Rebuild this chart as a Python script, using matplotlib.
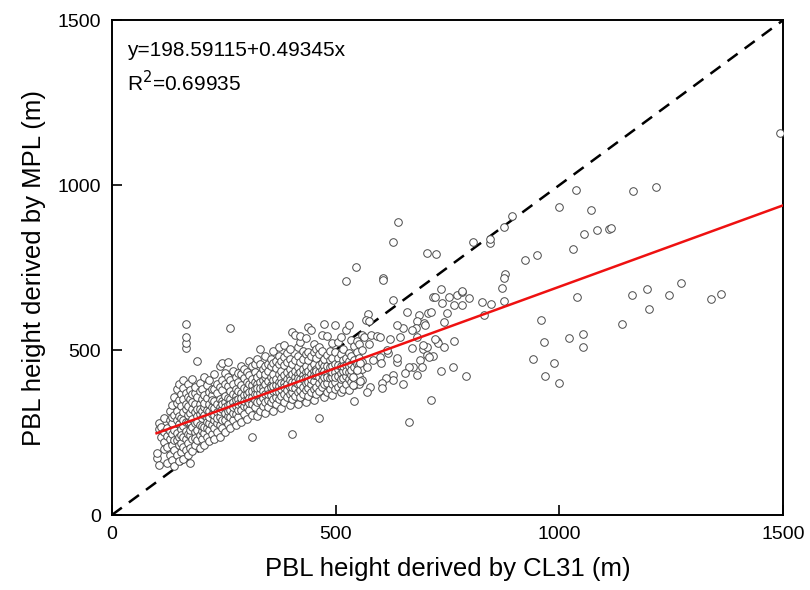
import numpy as np
import matplotlib
matplotlib.use("Agg")
import matplotlib.pyplot as plt

plt.rcParams["font.family"] = ["Liberation Sans", "DejaVu Sans"]

INTERCEPT = 198.59115
SLOPE = 0.49345
R2 = 0.69935

# dense part of the cloud, read column by column: CL31 height -> MPL heights
core_cols = {
    100: [172, 188],
    106: [279, 152, 262],
    111: [268, 236],
    117: [251, 221, 294, 199],
    123: [263, 207, 158, 241],
    129: [287, 231, 183, 316, 254],
    134: [168, 246, 279, 333, 213, 298],
    140: [149, 197, 259, 304, 357, 227],
    145: [183, 226, 288, 314, 381, 249, 341],
    150: [163, 212, 238, 276, 349, 396, 301],
    155: [191, 219, 262, 293, 329, 366, 243],
    160: [171, 207, 236, 271, 313, 352, 386, 409, 288],
    165: [196, 231, 283, 322, 338, 371, 506, 521, 539, 579, 256],
    170: [181, 218, 247, 281, 303, 329, 398, 357],
    175: [157, 204, 243, 259, 308, 352, 379, 282],
    180: [193, 231, 268, 292, 321, 343, 412, 368],
    186: [211, 253, 279, 313, 336, 371, 388, 233],
    191: [226, 259, 301, 322, 357, 467, 281],
    196: [203, 243, 272, 305, 338, 375, 401, 321],
    201: [232, 256, 293, 316, 351, 383, 271],
    206: [213, 249, 268, 302, 328, 364, 419, 341],
    212: [236, 263, 295, 319, 354, 393, 281],
    217: [223, 257, 279, 314, 337, 374, 408, 298],
    223: [247, 272, 307, 328, 364, 383, 348],
    229: [231, 265, 289, 323, 346, 381, 426, 303],
    235: [252, 278, 312, 336, 371, 398, 293],
    241: [238, 273, 298, 327, 352, 388, 453, 316],
    247: [264, 289, 321, 345, 378, 409, 461, 336],
    253: [253, 287, 309, 343, 362, 397, 432, 326],
    259: [277, 299, 333, 356, 391, 418, 464, 314],
    265: [263, 297, 319, 352, 376, 408, 567, 338],
    271: [287, 309, 343, 366, 398, 437, 326],
    277: [273, 307, 329, 362, 383, 417, 348],
    283: [297, 319, 353, 376, 404, 429, 337],
    289: [283, 318, 339, 371, 393, 428, 452, 356],
    295: [307, 329, 363, 386, 414, 442, 347],
    301: [292, 327, 349, 381, 403, 434, 367],
    307: [317, 339, 373, 396, 424, 468, 356],
    313: [236, 303, 338, 359, 393, 412, 451, 377],
    319: [327, 349, 381, 402, 434, 459, 366],
    325: [301, 342, 366, 398, 418, 473, 386],
    331: [316, 347, 369, 403, 426, 457, 503, 386],
    337: [332, 356, 388, 409, 443, 376],
    343: [308, 344, 366, 398, 419, 453, 483, 428],
    349: [327, 349, 383, 406, 438, 459, 368],
    355: [342, 363, 394, 418, 451, 473, 387],
    361: [316, 352, 376, 408, 428, 461, 498, 392],
    367: [337, 359, 393, 413, 445, 468, 377],
    373: [352, 373, 404, 426, 458, 483, 509, 392],
    379: [323, 361, 383, 414, 436, 468, 401],
    385: [344, 368, 401, 423, 455, 478, 515, 389],
    391: [357, 379, 411, 433, 465, 492, 398],
    397: [333, 367, 389, 421, 443, 474, 503, 408],
    403: [245, 351, 373, 404, 426, 458, 555, 388],
    409: [362, 386, 418, 438, 471, 545, 403],
    415: [338, 372, 396, 428, 448, 481, 508, 416],
    421: [357, 379, 411, 433, 464, 524, 542, 396],
    427: [367, 389, 423, 443, 474, 498, 412],
    433: [343, 378, 399, 433, 453, 488, 536, 419],
    439: [362, 386, 418, 438, 471, 493, 570, 402],
    445: [372, 396, 428, 449, 483, 561, 411],
    451: [348, 383, 406, 438, 459, 493, 518, 424],
    457: [367, 389, 423, 443, 475, 503, 438],
    463: [294, 377, 399, 433, 455, 488, 509, 418],
    469: [387, 409, 441, 462, 498, 545, 428],
    475: [358, 398, 419, 451, 472, 579, 436],
    481: [374, 399, 433, 452, 485, 543, 418],
    487: [383, 415, 437, 471, 496, 449],
    493: [363, 398, 419, 453, 475, 522, 434],
    499: [381, 402, 435, 457, 493, 576, 418],
    505: [389, 421, 442, 475, 524, 456],
    511: [372, 397, 431, 452, 488, 541, 412],
    517: [383, 415, 437, 471, 502, 452],
    523: [397, 422, 455, 477, 561, 436],
    529: [378, 413, 435, 468, 492, 577, 451],
    535: [402, 425, 458, 482, 531, 441],
    541: [345, 393, 415, 448, 469, 512],
    547: [403, 435, 459, 493, 528],
    553: [398, 422, 455, 477, 517],
    559: [408, 443, 465, 501, 546],
}

# scattered points outside the dense core
cl31_sparse = [523, 545, 605, 606, 628, 572, 568, 575, 659, 686, 706, 713, 718, 722,
               735, 738, 753, 771, 782, 765, 749, 742, 682, 697, 700, 680, 671, 651,
               637, 727, 728, 765, 742, 718, 762, 736, 791, 713, 664,
               671, 695, 704, 708, 689, 693, 673, 682, 665, 655, 651, 628, 628, 612,
               604, 604, 577, 570, 637, 637, 617, 599, 601, 584, 570, 554, 548, 539,
               554, 539, 563, 580, 575, 592, 599, 622, 644, 615, 682, 704, 721, 695,
               704, 724, 640, 628,
               1037, 999, 1071, 894, 876, 807, 845, 845, 1055, 1084, 1111, 1031, 923,
               950, 879, 876, 872, 782, 798, 782, 827, 847, 876, 832, 1040, 959, 966,
               1022, 1053, 1053, 941, 988, 968, 999, 1165, 1216, 1116, 1163, 1196,
               1201, 1140, 1245, 1272, 1339, 1361, 1493]
mpl_sparse = [709, 752, 718, 712, 652, 609, 591, 588, 615, 606, 612, 615, 661, 662,
              685, 642, 661, 667, 676, 636, 612, 585, 588, 582, 576, 567, 561, 567,
              576, 527, 522, 527, 509, 482, 448, 436, 421, 348, 282,
              506, 503, 485, 478, 470, 448, 448, 424, 448, 430, 397, 424, 410, 415,
              400, 385, 388, 373, 464, 476, 491, 479, 461, 470, 448, 461, 439, 418,
              406, 394, 539, 545, 518, 542, 539, 533, 539, 500, 539, 509, 533, 515,
              794, 791, 888, 826,
              985, 933, 924, 906, 873, 827, 824, 836, 851, 863, 867, 806, 773,
              788, 730, 718, 688, 679, 658, 636, 645, 639, 648, 606, 661, 591, 524,
              536, 548, 509, 473, 461, 421, 400, 982, 994, 869, 667, 685,
              624, 579, 667, 703, 655, 670, 1158]

cl31 = []
mpl = []
for xv, ys in core_cols.items():
    for yv in ys:
        cl31.append(xv)
        mpl.append(yv)
cl31 = np.array(cl31 + cl31_sparse, dtype=float)
mpl = np.array(mpl + mpl_sparse, dtype=float)

fig = plt.figure(figsize=(8.1, 5.9), dpi=100)
ax = fig.add_axes([0.138, 0.127, 0.829, 0.839])

ax.plot([0, 1500], [0, 1500], color="black", lw=1.8, linestyle=(0, (5, 3.5)), zorder=2)
ax.scatter(cl31, mpl, s=30, facecolors="white", edgecolors="#4a4a4a", linewidths=0.7, zorder=3)
fit_x = np.array([100, 1500])
ax.plot(fit_x, INTERCEPT + SLOPE * fit_x, color="#ee1111", lw=1.8, zorder=4)

ax.set_xlim(0, 1500)
ax.set_ylim(0, 1500)
ax.set_xticks([0, 500, 1000, 1500])
ax.set_yticks([0, 500, 1000, 1500])
ax.tick_params(direction="in", length=7, width=1.2, labelsize=14, pad=8)
for s in ax.spines.values():
    s.set_linewidth(1.4)

ax.set_xlabel("PBL height derived by CL31 (m)", fontsize=18.5, labelpad=10)
ax.set_ylabel("PBL height derived by MPL (m)", fontsize=18.5, labelpad=8)

ax.text(0.022, 0.939, "y=198.59115+0.49345x", transform=ax.transAxes, fontsize=15, va="center")
ax.text(0.022, 0.873, "R$^2$=0.69935", transform=ax.transAxes, fontsize=15, va="center")

fig.savefig("out.png", dpi=100)
